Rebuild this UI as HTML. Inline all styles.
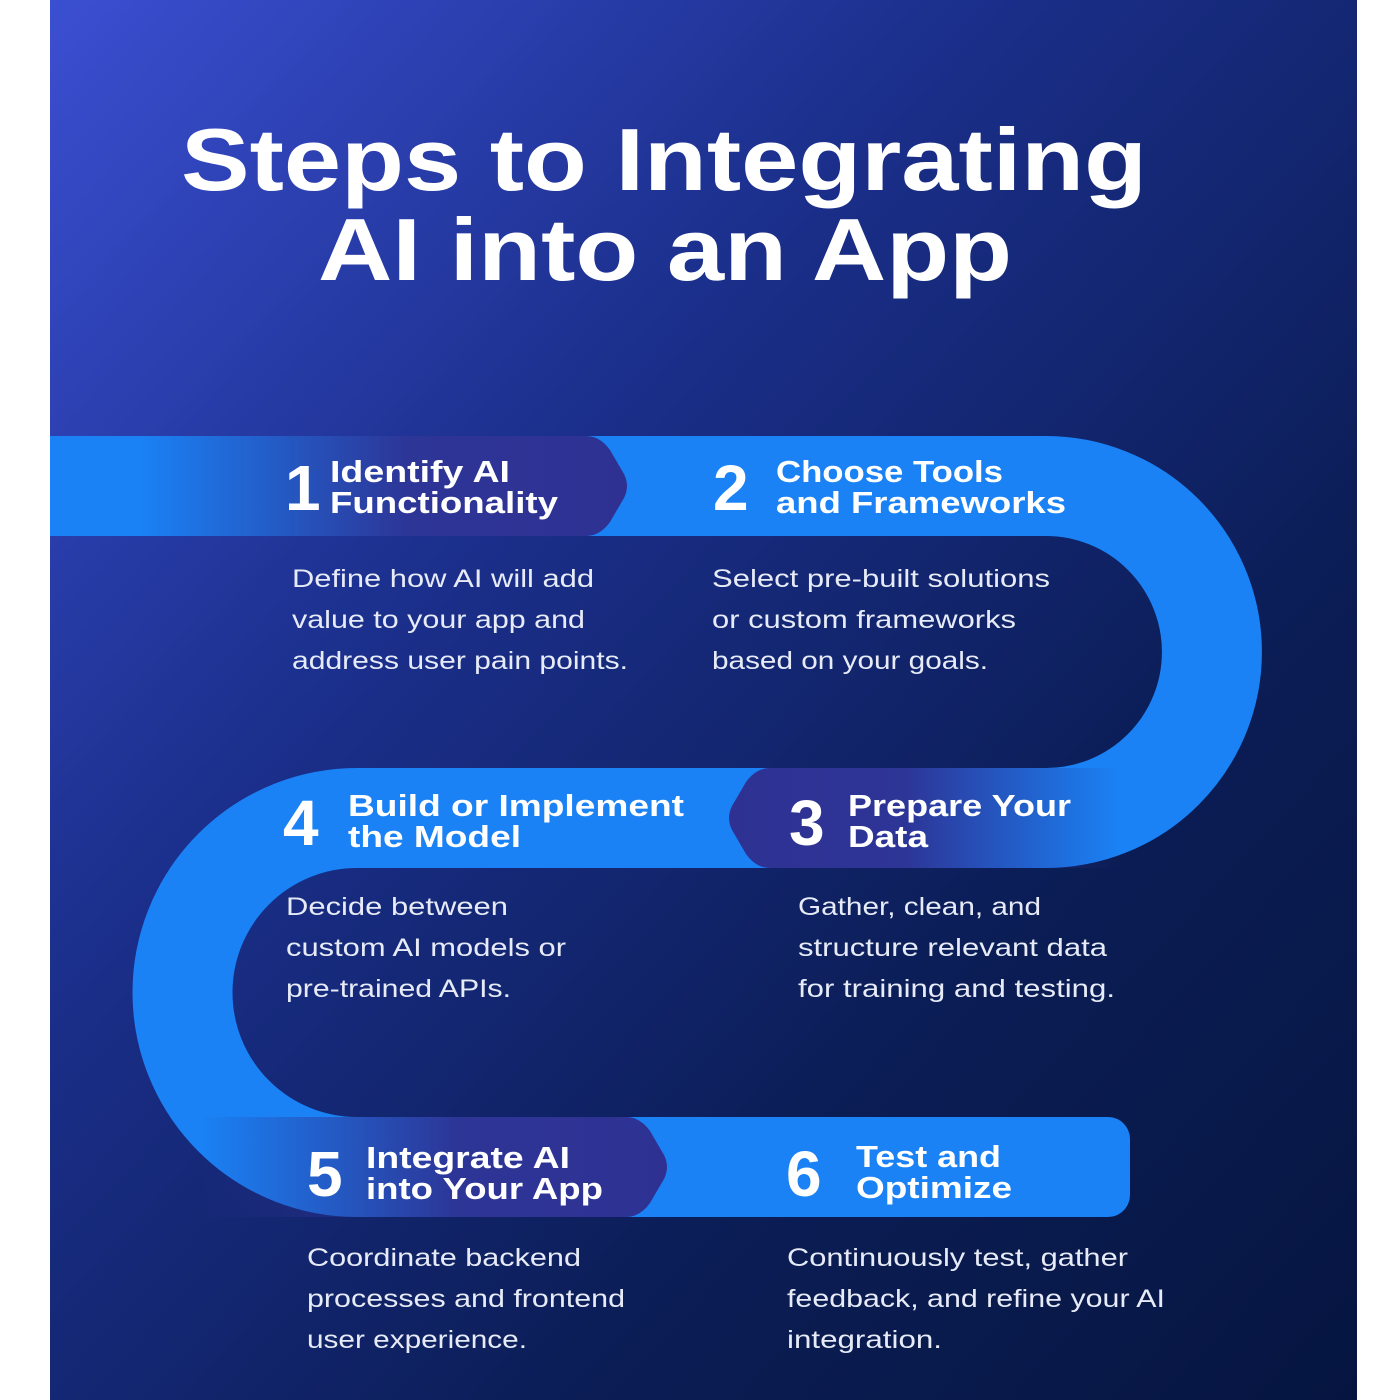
<!DOCTYPE html>
<html><head><meta charset="utf-8"><style>
html,body{margin:0;padding:0;background:#fff;}
svg{display:block;}
text{font-family:"Liberation Sans",sans-serif;fill:#fff;}
.h{font-weight:bold;font-size:31px;}
.n{font-weight:bold;font-size:64px;}
.b{font-size:25px;fill:#e6ebf7;}
</style></head><body>
<svg width="1400" height="1400" viewBox="0 0 1400 1400" xmlns="http://www.w3.org/2000/svg">
<defs>
<linearGradient id="bg" x1="0" y1="0" x2="1" y2="1">
<stop offset="0" stop-color="#3b4fd2"/>
<stop offset="0.35" stop-color="#1b2f8c"/>
<stop offset="0.7" stop-color="#0b1d55"/>
<stop offset="1" stop-color="#061540"/>
</linearGradient>
<linearGradient id="a1" x1="0" y1="0" x2="1" y2="0">
<stop offset="0" stop-color="#2e3192" stop-opacity="0"/>
<stop offset="0.55" stop-color="#2e3192" stop-opacity="0.95"/>
<stop offset="1" stop-color="#2e3192"/>
</linearGradient>
<linearGradient id="a3" x1="1" y1="0" x2="0" y2="0">
<stop offset="0" stop-color="#2e3192" stop-opacity="0"/>
<stop offset="0.55" stop-color="#2e3192" stop-opacity="0.95"/>
<stop offset="1" stop-color="#2e3192"/>
</linearGradient>
</defs>
<rect x="50" y="0" width="1307" height="1400" fill="url(#bg)"/>
<text x="664" y="190" text-anchor="middle" font-weight="bold" font-size="88" textLength="966" lengthAdjust="spacingAndGlyphs">Steps to Integrating</text>
<text x="665" y="280" text-anchor="middle" font-weight="bold" font-size="88" textLength="694" lengthAdjust="spacingAndGlyphs">AI into an App</text>

<path d="M50,486 H1046 A166,166 0 0 1 1046,818 H357 A174.5,174.5 0 0 0 357,1167 H1100" fill="none" stroke="#1a82f5" stroke-width="100"/>
<rect x="1050" y="1117" width="80" height="100" rx="22" fill="#1a82f5"/>
<path d="M140,436 H586 Q600,436 610,450 L624,474 Q630,486 624,498 L610,522 Q600,536 586,536 H140 Z" fill="url(#a1)"/>
<path d="M1120,768 H770 Q756,768 746,782 L732,806 Q726,818 732,830 L746,854 Q756,868 770,868 H1120 Z" fill="url(#a3)"/>
<path d="M200,1117 H626 Q640,1117 650,1131 L664,1155 Q670,1167 664,1179 L650,1203 Q640,1217 626,1217 H200 Z" fill="url(#a1)"/>

<g lengthAdjust="spacingAndGlyphs">
<text class="n" x="285" y="510">1</text>
<text class="h" x="330" y="482" textLength="180" lengthAdjust="spacingAndGlyphs">Identify AI</text>
<text class="h" x="330" y="513" textLength="228" lengthAdjust="spacingAndGlyphs">Functionality</text>
<text class="n" x="713" y="510">2</text>
<text class="h" x="776" y="482" textLength="227" lengthAdjust="spacingAndGlyphs">Choose Tools</text>
<text class="h" x="776" y="513" textLength="290" lengthAdjust="spacingAndGlyphs">and Frameworks</text>
<text class="n" x="283" y="845">4</text>
<text class="h" x="348" y="816" textLength="336" lengthAdjust="spacingAndGlyphs">Build or Implement</text>
<text class="h" x="348" y="847" textLength="173" lengthAdjust="spacingAndGlyphs">the Model</text>
<text class="n" x="789" y="845">3</text>
<text class="h" x="848" y="816" textLength="223" lengthAdjust="spacingAndGlyphs">Prepare Your</text>
<text class="h" x="848" y="847" textLength="80" lengthAdjust="spacingAndGlyphs">Data</text>
<text class="n" x="307" y="1196">5</text>
<text class="h" x="366" y="1168" textLength="204" lengthAdjust="spacingAndGlyphs">Integrate AI</text>
<text class="h" x="366" y="1199" textLength="237" lengthAdjust="spacingAndGlyphs">into Your App</text>
<text class="n" x="786" y="1196">6</text>
<text class="h" x="856" y="1167" textLength="145" lengthAdjust="spacingAndGlyphs">Test and</text>
<text class="h" x="856" y="1198" textLength="156" lengthAdjust="spacingAndGlyphs">Optimize</text>

<text class="b" x="292" y="587" textLength="302" lengthAdjust="spacingAndGlyphs">Define how AI will add</text>
<text class="b" x="292" y="628" textLength="293" lengthAdjust="spacingAndGlyphs">value to your app and</text>
<text class="b" x="292" y="669" textLength="336" lengthAdjust="spacingAndGlyphs">address user pain points.</text>
<text class="b" x="712" y="587" textLength="338" lengthAdjust="spacingAndGlyphs">Select pre-built solutions</text>
<text class="b" x="712" y="628" textLength="304" lengthAdjust="spacingAndGlyphs">or custom frameworks</text>
<text class="b" x="712" y="669" textLength="276" lengthAdjust="spacingAndGlyphs">based on your goals.</text>
<text class="b" x="286" y="915" textLength="222" lengthAdjust="spacingAndGlyphs">Decide between</text>
<text class="b" x="286" y="956" textLength="280" lengthAdjust="spacingAndGlyphs">custom AI models or</text>
<text class="b" x="286" y="997" textLength="225" lengthAdjust="spacingAndGlyphs">pre-trained APIs.</text>
<text class="b" x="798" y="915" textLength="243" lengthAdjust="spacingAndGlyphs">Gather, clean, and</text>
<text class="b" x="798" y="956" textLength="309" lengthAdjust="spacingAndGlyphs">structure relevant data</text>
<text class="b" x="798" y="997" textLength="317" lengthAdjust="spacingAndGlyphs">for training and testing.</text>
<text class="b" x="307" y="1266" textLength="274" lengthAdjust="spacingAndGlyphs">Coordinate backend</text>
<text class="b" x="307" y="1307" textLength="318" lengthAdjust="spacingAndGlyphs">processes and frontend</text>
<text class="b" x="307" y="1348" textLength="220" lengthAdjust="spacingAndGlyphs">user experience.</text>
<text class="b" x="787" y="1266" textLength="341" lengthAdjust="spacingAndGlyphs">Continuously test, gather</text>
<text class="b" x="787" y="1307" textLength="378" lengthAdjust="spacingAndGlyphs">feedback, and refine your AI</text>
<text class="b" x="787" y="1348" textLength="155" lengthAdjust="spacingAndGlyphs">integration.</text>
</g>
</svg>
</body></html>
